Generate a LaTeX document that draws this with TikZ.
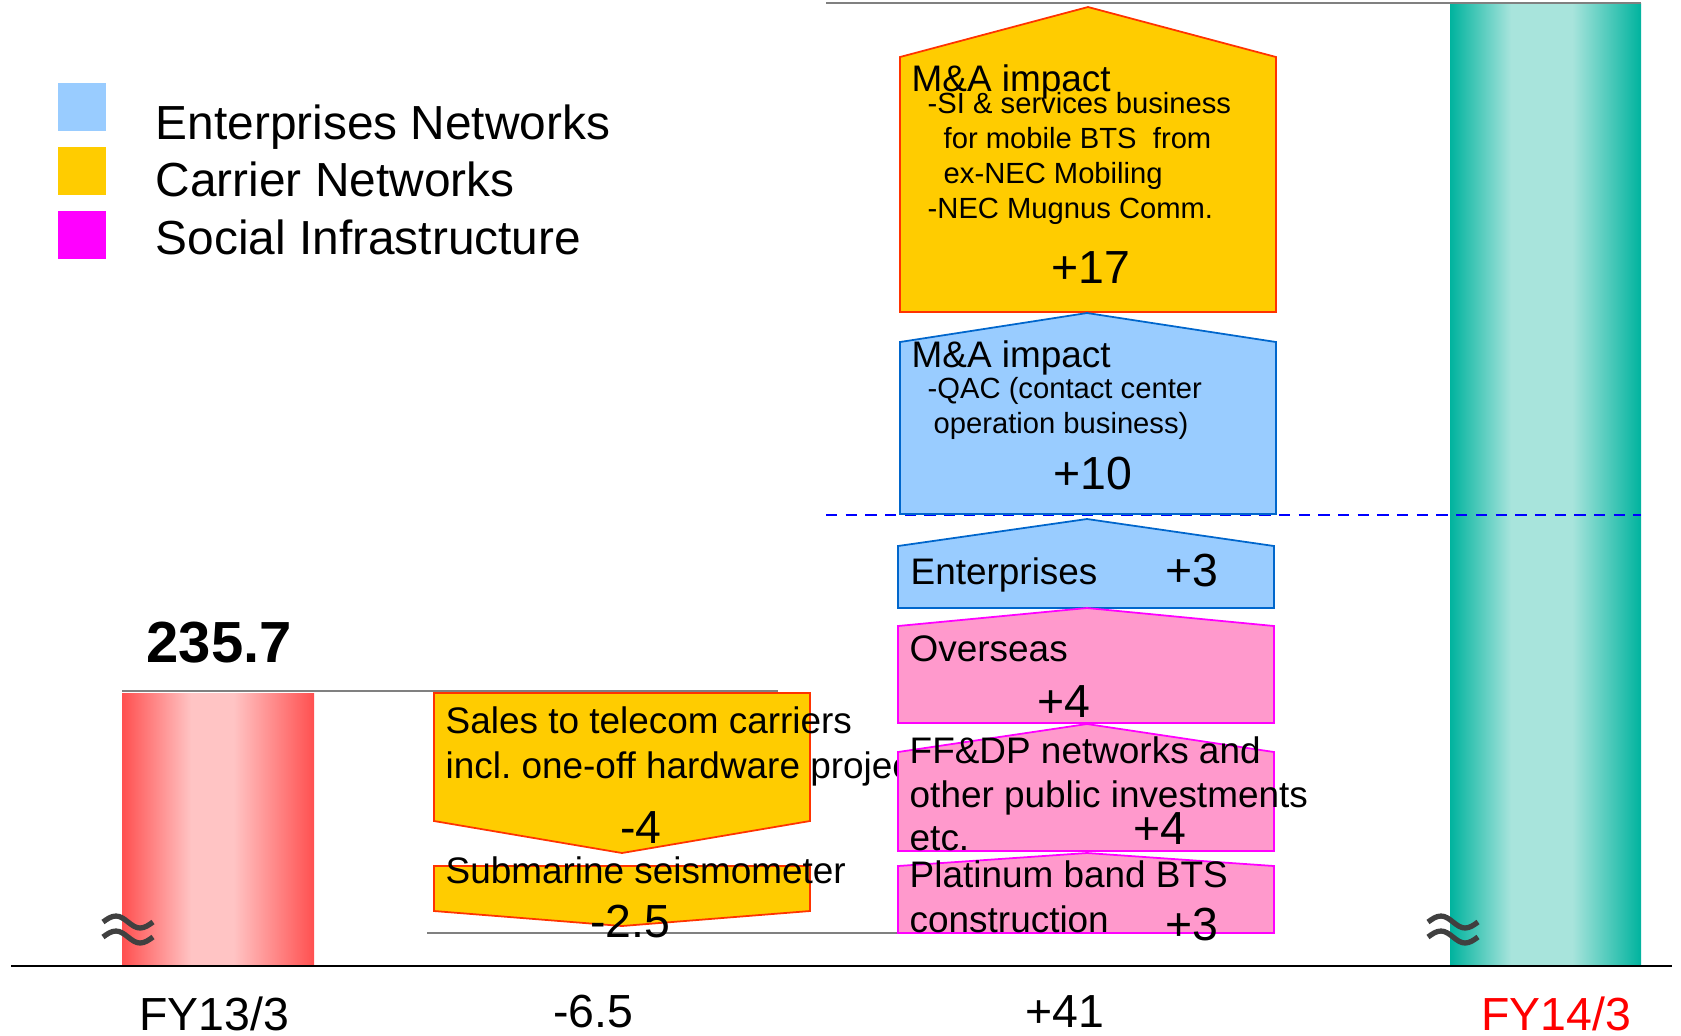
\documentclass[tikz,border=0pt]{standalone}
\usepackage{fontspec}
\setmainfont{Liberation Sans}

\definecolor{entblue}{HTML}{99CCFF}
\definecolor{entline}{HTML}{0066CC}
\definecolor{caryellow}{HTML}{FFCC00}
\definecolor{carline}{HTML}{FF3300}
\definecolor{socpink}{HTML}{FF99CC}
\definecolor{socline}{HTML}{FF00FF}
\definecolor{barred}{HTML}{FF5050}
\definecolor{barpink}{HTML}{FFC4C4}
\definecolor{barteal}{HTML}{00B39E}
\definecolor{barmint}{HTML}{A8E4DC}
\definecolor{brkgray}{HTML}{404040}

\pgfdeclarehorizontalshading{fy13bar}{100bp}{color(0bp)=(barred); color(25bp)=(barred); color(43bp)=(barpink); color(54bp)=(barpink); color(75bp)=(barred); color(100bp)=(barred)}
\pgfdeclarehorizontalshading{fy14bar}{100bp}{color(0bp)=(barteal); color(25bp)=(barteal); color(41bp)=(barmint); color(57bp)=(barmint); color(75bp)=(barteal); color(100bp)=(barteal)}

\begin{document}
\begin{tikzpicture}[x=0.01cm, y=-0.01cm,
    lgd/.style={anchor=base west, inner sep=0, font=\fontsize{13.6}{16}\selectfont},
    txt/.style={anchor=base west, inner sep=0, font=\fontsize{10.5}{12}\selectfont},
    sub/.style={anchor=base west, inner sep=0, font=\fontsize{8.3}{10}\selectfont},
    val/.style={anchor=base, inner sep=0, font=\fontsize{13.2}{15}\selectfont},
    ent/.style={fill=entblue, draw=entline, line width=0.5pt},
    car/.style={fill=caryellow, draw=carline, line width=0.5pt},
    soc/.style={fill=socpink, draw=socline, line width=0.5pt},
    guide/.style={draw=gray, line width=0.6pt},
    brk/.style={draw=brkgray, line width=1.5pt}]

    \useasboundingbox (0,0) rectangle (1681,1035);

    % legend
    \fill[entblue] (58,83) rectangle (106,131);
    \fill[caryellow] (58,147) rectangle (106,195);
    \fill[socline] (58,211) rectangle (106,259);
    \node[lgd] (lgdent) at (155,139) {Enterprises Networks};
    \node[lgd] (lgdcar) at (155,196) {Carrier Networks};
    \node[lgd] (lgdsoc) at (155,254) {Social Infrastructure};

    % year bars
    \shade[shading=fy13bar] (122,693) rectangle (314,965);
    \shade[shading=fy14bar] (1450,3) rectangle (1641,965);

    \draw[guide] (122,691) -- (778,691);
    \draw[guide] (427,933) -- (1274,933);
    \draw[guide] (826,3) -- (1641,3);
    \draw[blue, line width=0.7pt, dash pattern=on 3.2pt off 2.4pt] (826,515) -- (1641,515);
    \draw[black, line width=0.6pt] (11,966) -- (1672,966);

    \foreach \x in {128,1453}
        \foreach \y in {922,937}
            \draw[brk] (\x-25,\y) sin (\x-12,\y-6) cos (\x,\y) sin (\x+12,\y+6) cos (\x+25,\y);

    \node[anchor=base west, inner sep=0, font=\fontsize{16.5}{18}\selectfont\bfseries] (fy13val) at (146,662) {235.7};
    \node[val] (fy13) at (214,1030) {FY13/3};
    \node[val] (delcar) at (593,1027) {-6.5};
    \node[val] (deltot) at (1065,1027) {+41};
    \node[val, text=red] (fy14) at (1556,1030) {FY14/3};

    % decreases
    \filldraw[car] (434,693) -- (810,693) -- (810,821) -- (622,853) -- (434,821) -- cycle;
    \node[txt] (sales1) at (445,733) {Sales to telecom carriers};
    \node[txt] (sales2) at (445,778) {incl.\ one-off hardware projects};
    \node[val] (salesval) at (641,843) {-4};
    \filldraw[car] (434,866) -- (810,866) -- (810,911) -- (622,926) -- (434,911) -- cycle;
    \node[txt] (subm) at (445,883) {Submarine seismometer};
    \node[val] (submval) at (630,937) {-2.5};

    % increases
    \filldraw[car] (900,312) -- (900,57) -- (1088,7) -- (1276,57) -- (1276,312) -- cycle;
    \node[txt] (macar) at (911,91) {M\&A impact};
    \node[sub] (macar1) at (927,113) {-SI \& services business};
    \node[sub] (macar2) at (943,148) {for mobile BTS~ from};
    \node[sub] (macar3) at (943,183) {ex-NEC Mobiling};
    \node[sub] (macar4) at (927,218) {-NEC Mugnus Comm.};
    \node[val] (macarval) at (1091,283) {+17};

    \filldraw[ent] (900,514) -- (900,342) -- (1087,313) -- (1276,342) -- (1276,514) -- cycle;
    \node[txt] (maent) at (911,367) {M\&A impact};
    \node[sub] (maent1) at (927,398) {-QAC (contact center};
    \node[sub] (maent2) at (933,433) {operation business)};
    \node[val] (maentval) at (1093,489) {+10};

    \filldraw[ent] (898,608) -- (898,546) -- (1087,519) -- (1274,546) -- (1274,608) -- cycle;
    \node[txt] (entr) at (910,584) {Enterprises};
    \node[val] (entrval) at (1192,586) {+3};

    \filldraw[soc] (898,723) -- (898,626) -- (1087,608) -- (1274,626) -- (1274,723) -- cycle;
    \node[txt] (ovs) at (909,661) {Overseas};
    \node[val] (ovsval) at (1064,717) {+4};

    \filldraw[soc] (898,851) -- (898,752) -- (1087,724) -- (1274,752) -- (1274,851) -- cycle;
    \node[txt] (ffdp1) at (909,763) {FF\&DP networks and};
    \node[txt] (ffdp2) at (909,807) {other public investments};
    \node[txt] (ffdp3) at (909,850) {etc.};
    \node[val] (ffdpval) at (1160,844) {+4};

    \filldraw[soc] (898,933) -- (898,866) -- (1087,853) -- (1274,866) -- (1274,933) -- cycle;
    \node[txt] (plat1) at (909,887) {Platinum band BTS};
    \node[txt] (plat2) at (909,932) {construction};
    \node[val] (platval) at (1192,940) {+3};
\end{tikzpicture}
\end{document}
